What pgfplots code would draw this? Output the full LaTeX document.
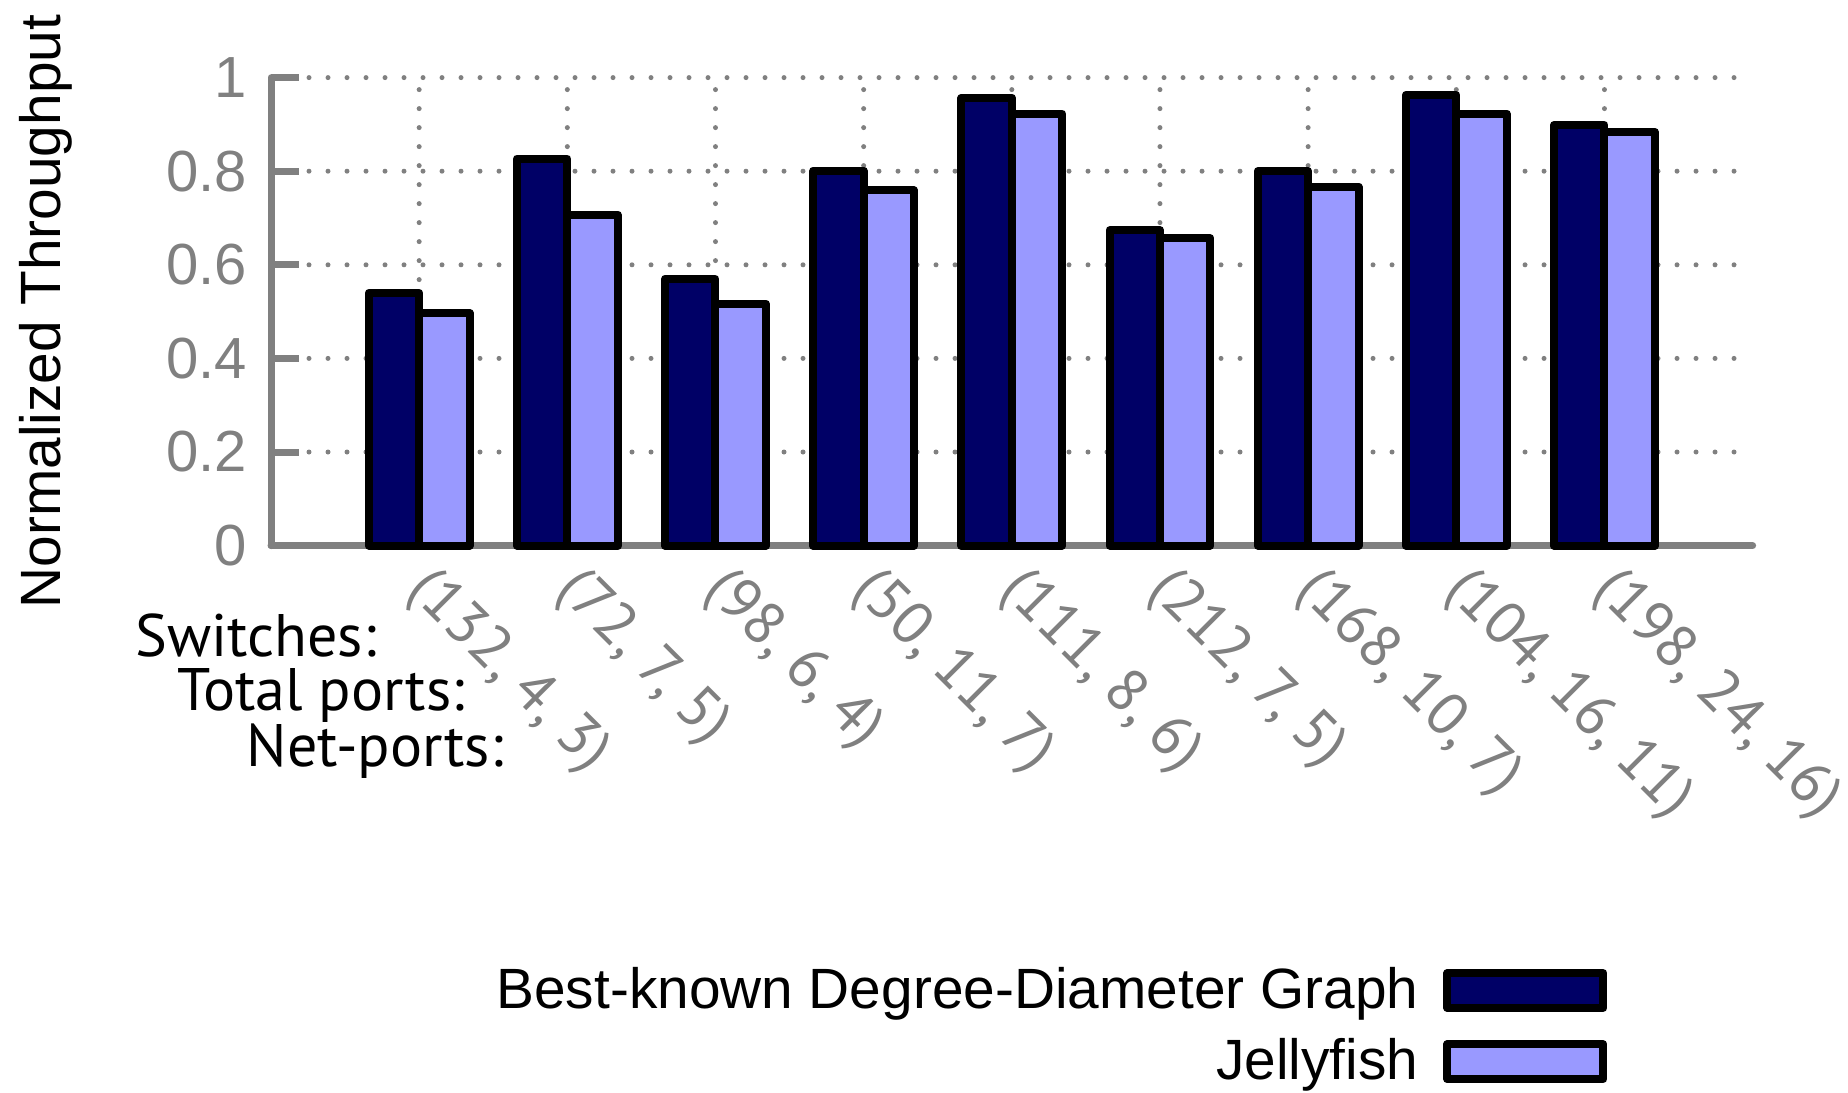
\documentclass[border=0pt]{standalone}
\usepackage{pgfplots}
\pgfplotsset{compat=1.18}
\usepackage{fontspec}
\setmainfont{Liberation Sans}
\newfontfamily\gillfont{PT Sans}
\definecolor{ddgraph}{HTML}{000066}
\definecolor{jelly}{HTML}{9999FF}
\definecolor{axisgray}{HTML}{808080}

\begin{document}
\begin{tikzpicture}
\begin{axis}[
  scale only axis,
  width=370.4pt, height=117pt,
  at={(0,0)}, anchor=south west,
  xmin=0, xmax=10, ymin=0, ymax=1,
  clip=false,
  ybar=0pt, bar width=0.34,
  axis x line*=bottom, axis y line*=left,
  axis line style={draw=axisgray, line width=1.75pt, line cap=round},
  xtick={1,...,9},
  xticklabels={{(132, 4, 3)},{(72, 7, 5)},{(98, 6, 4)},{(50, 11, 7)},{(111, 8, 6)},{(212, 7, 5)},{(168, 10, 7)},{(104, 16, 11)},{(198, 24, 16)}},
  ytick={0,0.2,0.4,0.6,0.8,1},
  /pgf/number format/assume math mode=true,
  grid=major,
  major grid style={draw=axisgray, line width=1.25pt, dash pattern=on 0pt off 4.75pt, line cap=round},
  tick align=inside, major tick length=7pt,
  y tick style={draw=axisgray, line width=1.75pt},
  x tick style={draw=none},
  yticklabel style={font=\fontsize{14.5}{17}\selectfont, text=axisgray, xshift=-2.5pt},
  xticklabel style={font=\gillfont\fontsize{15}{18}\selectfont, text=axisgray, xshift=4.5pt, yshift=1pt, rotate=-45, anchor=north west},
  ylabel={Normalized Throughput},
  ylabel style={at={(axis description cs:-0.152,0.5)}, anchor=center, font=\fontsize{14.2}{17}\selectfont},
  legend plot pos=right,
  legend cell align=right,
  legend image code/.code={\draw[#1, line width=2pt, line join=round] (0pt,-4.3pt) rectangle (39pt,4.45pt);},
  legend style={draw=none, fill=none, font=\fontsize{14.2}{17}\selectfont,
    at={(axis description cs:0.9106,-0.865)}, anchor=north east, row sep=2pt, column sep=4.25pt},
]
% Best-known degree-diameter graph
\addplot[draw=black, fill=ddgraph, line width=2pt, line join=round] coordinates {
  (1,0.540) (2,0.827) (3,0.570) (4,0.801) (5,0.957) (6,0.674) (7,0.800) (8,0.963) (9,0.899)};
% Jellyfish with the same equipment
\addplot[draw=black, fill=jelly, line width=2pt, line join=round] coordinates {
  (1,0.497) (2,0.707) (3,0.517) (4,0.759) (5,0.923) (6,0.657) (7,0.767) (8,0.923) (9,0.884)};
\legend{Best-known Degree-Diameter Graph, Jellyfish}
\end{axis}
% row captions for the tick-label triples
\begin{scope}[every node/.style={anchor=base east, inner sep=0pt, font=\gillfont\fontsize{15}{18}\selectfont}]
  \node at (26.5pt,-27.6pt) {Switches:};
  \node at (48.6pt,-41.3pt) {Total ports:};
  \node at (58.25pt,-55.1pt) {Net-ports:};
\end{scope}
\pgfresetboundingbox
\path[use as bounding box] (-67.75pt,-136.6pt) rectangle (394.25pt,136.4pt);
\end{tikzpicture}
\end{document}
